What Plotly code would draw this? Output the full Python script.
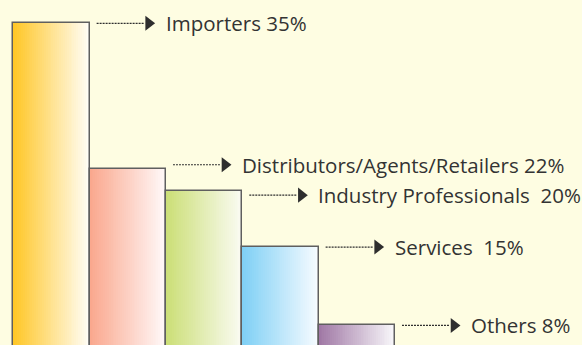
import plotly.graph_objects as go

# Share of visitors by profile
categories = ["Importers", "Distributors/Agents/Retailers", "Industry Professionals", "Services", "Others"]
shares = [35, 22, 20, 15, 8]
label_texts = ["Importers 35%", "Distributors/Agents/Retailers 22%", "Industry Professionals  20%",
               "Services  15%", "Others 8%"]
left_colors = [(255, 199, 40), (250, 168, 142), (204, 223, 120), (128, 208, 245), (160, 120, 165)]
right_colors = [(255, 253, 246), (255, 248, 248), (250, 251, 242), (246, 251, 255), (248, 247, 250)]

BG = "#FEFDE2"
N_SLICES = 40
Y_RANGE = [6.25, 37.08]
FIG_W, FIG_H = 582, 345
PX_PER_UNIT = 76.34  # horizontal scale, used to convert pixel gaps to axis units
PX_PER_Y = FIG_H / (Y_RANGE[1] - Y_RANGE[0])
# small vertical nudges (px) so the two close labels don't collide
label_nudge_px = [0, 4, -4, 0, 0]

x_idx = list(range(len(categories)))


def mix(c1, c2, t):
    return "rgb({},{},{})".format(*[round(a + (b - a) * t) for a, b in zip(c1, c2)])


fig = go.Figure()

# horizontal gradient fill: each bar is built from thin overlapping vertical slices
for j in range(N_SLICES):
    t = j / (N_SLICES - 1)
    fig.add_trace(go.Bar(
        x=x_idx, y=shares,
        offset=-0.5 + j / N_SLICES,
        width=(1.0 / N_SLICES) * (1.6 if j < N_SLICES - 1 else 1.0),
        marker=dict(color=[mix(l, r, t) for l, r in zip(left_colors, right_colors)], line=dict(width=0)),
        hoverinfo="skip", showlegend=False,
    ))

# bar outlines
fig.add_trace(go.Bar(
    x=x_idx, y=shares, width=1.0,
    marker=dict(color="rgba(0,0,0,0)", line=dict(color="#5f5f5f", width=1.5)),
    hoverinfo="skip", showlegend=False,
))

# dotted leader lines with arrowheads, then the labels
line_start = 7 / PX_PER_UNIT
line_end = 55 / PX_PER_UNIT
head_pos = 59 / PX_PER_UNIT
text_pos = 74 / PX_PER_UNIT

for i, (v, txt, nudge) in enumerate(zip(shares, label_texts, label_nudge_px)):
    right_edge = i + 0.5
    ly = v + nudge / PX_PER_Y
    fig.add_trace(go.Scatter(
        x=[right_edge + line_start, right_edge + line_end], y=[ly, ly],
        mode="lines", line=dict(color="#2e2e2e", width=1.2, dash="2px,1px"),
        hoverinfo="skip", showlegend=False,
    ))
    fig.add_trace(go.Scatter(
        x=[right_edge + head_pos], y=[ly],
        mode="markers", marker=dict(symbol="triangle-right", size=13, color="#2e2e2e"),
        hoverinfo="skip", showlegend=False,
    ))
    fig.add_annotation(
        x=right_edge + text_pos, y=ly, text=txt, showarrow=False,
        xanchor="left", yanchor="middle",
        font=dict(family="Open Sans", size=20.5, color="#333333"),
    )

fig.update_layout(
    width=FIG_W, height=FIG_H,
    margin=dict(l=0, r=0, t=0, b=0),
    paper_bgcolor=BG, plot_bgcolor=BG,
    barmode="overlay", bargap=0,
    xaxis=dict(range=[-0.674, 6.950], visible=False, fixedrange=True),
    yaxis=dict(range=Y_RANGE, visible=False, fixedrange=True),
)

fig.write_html("out.html")
